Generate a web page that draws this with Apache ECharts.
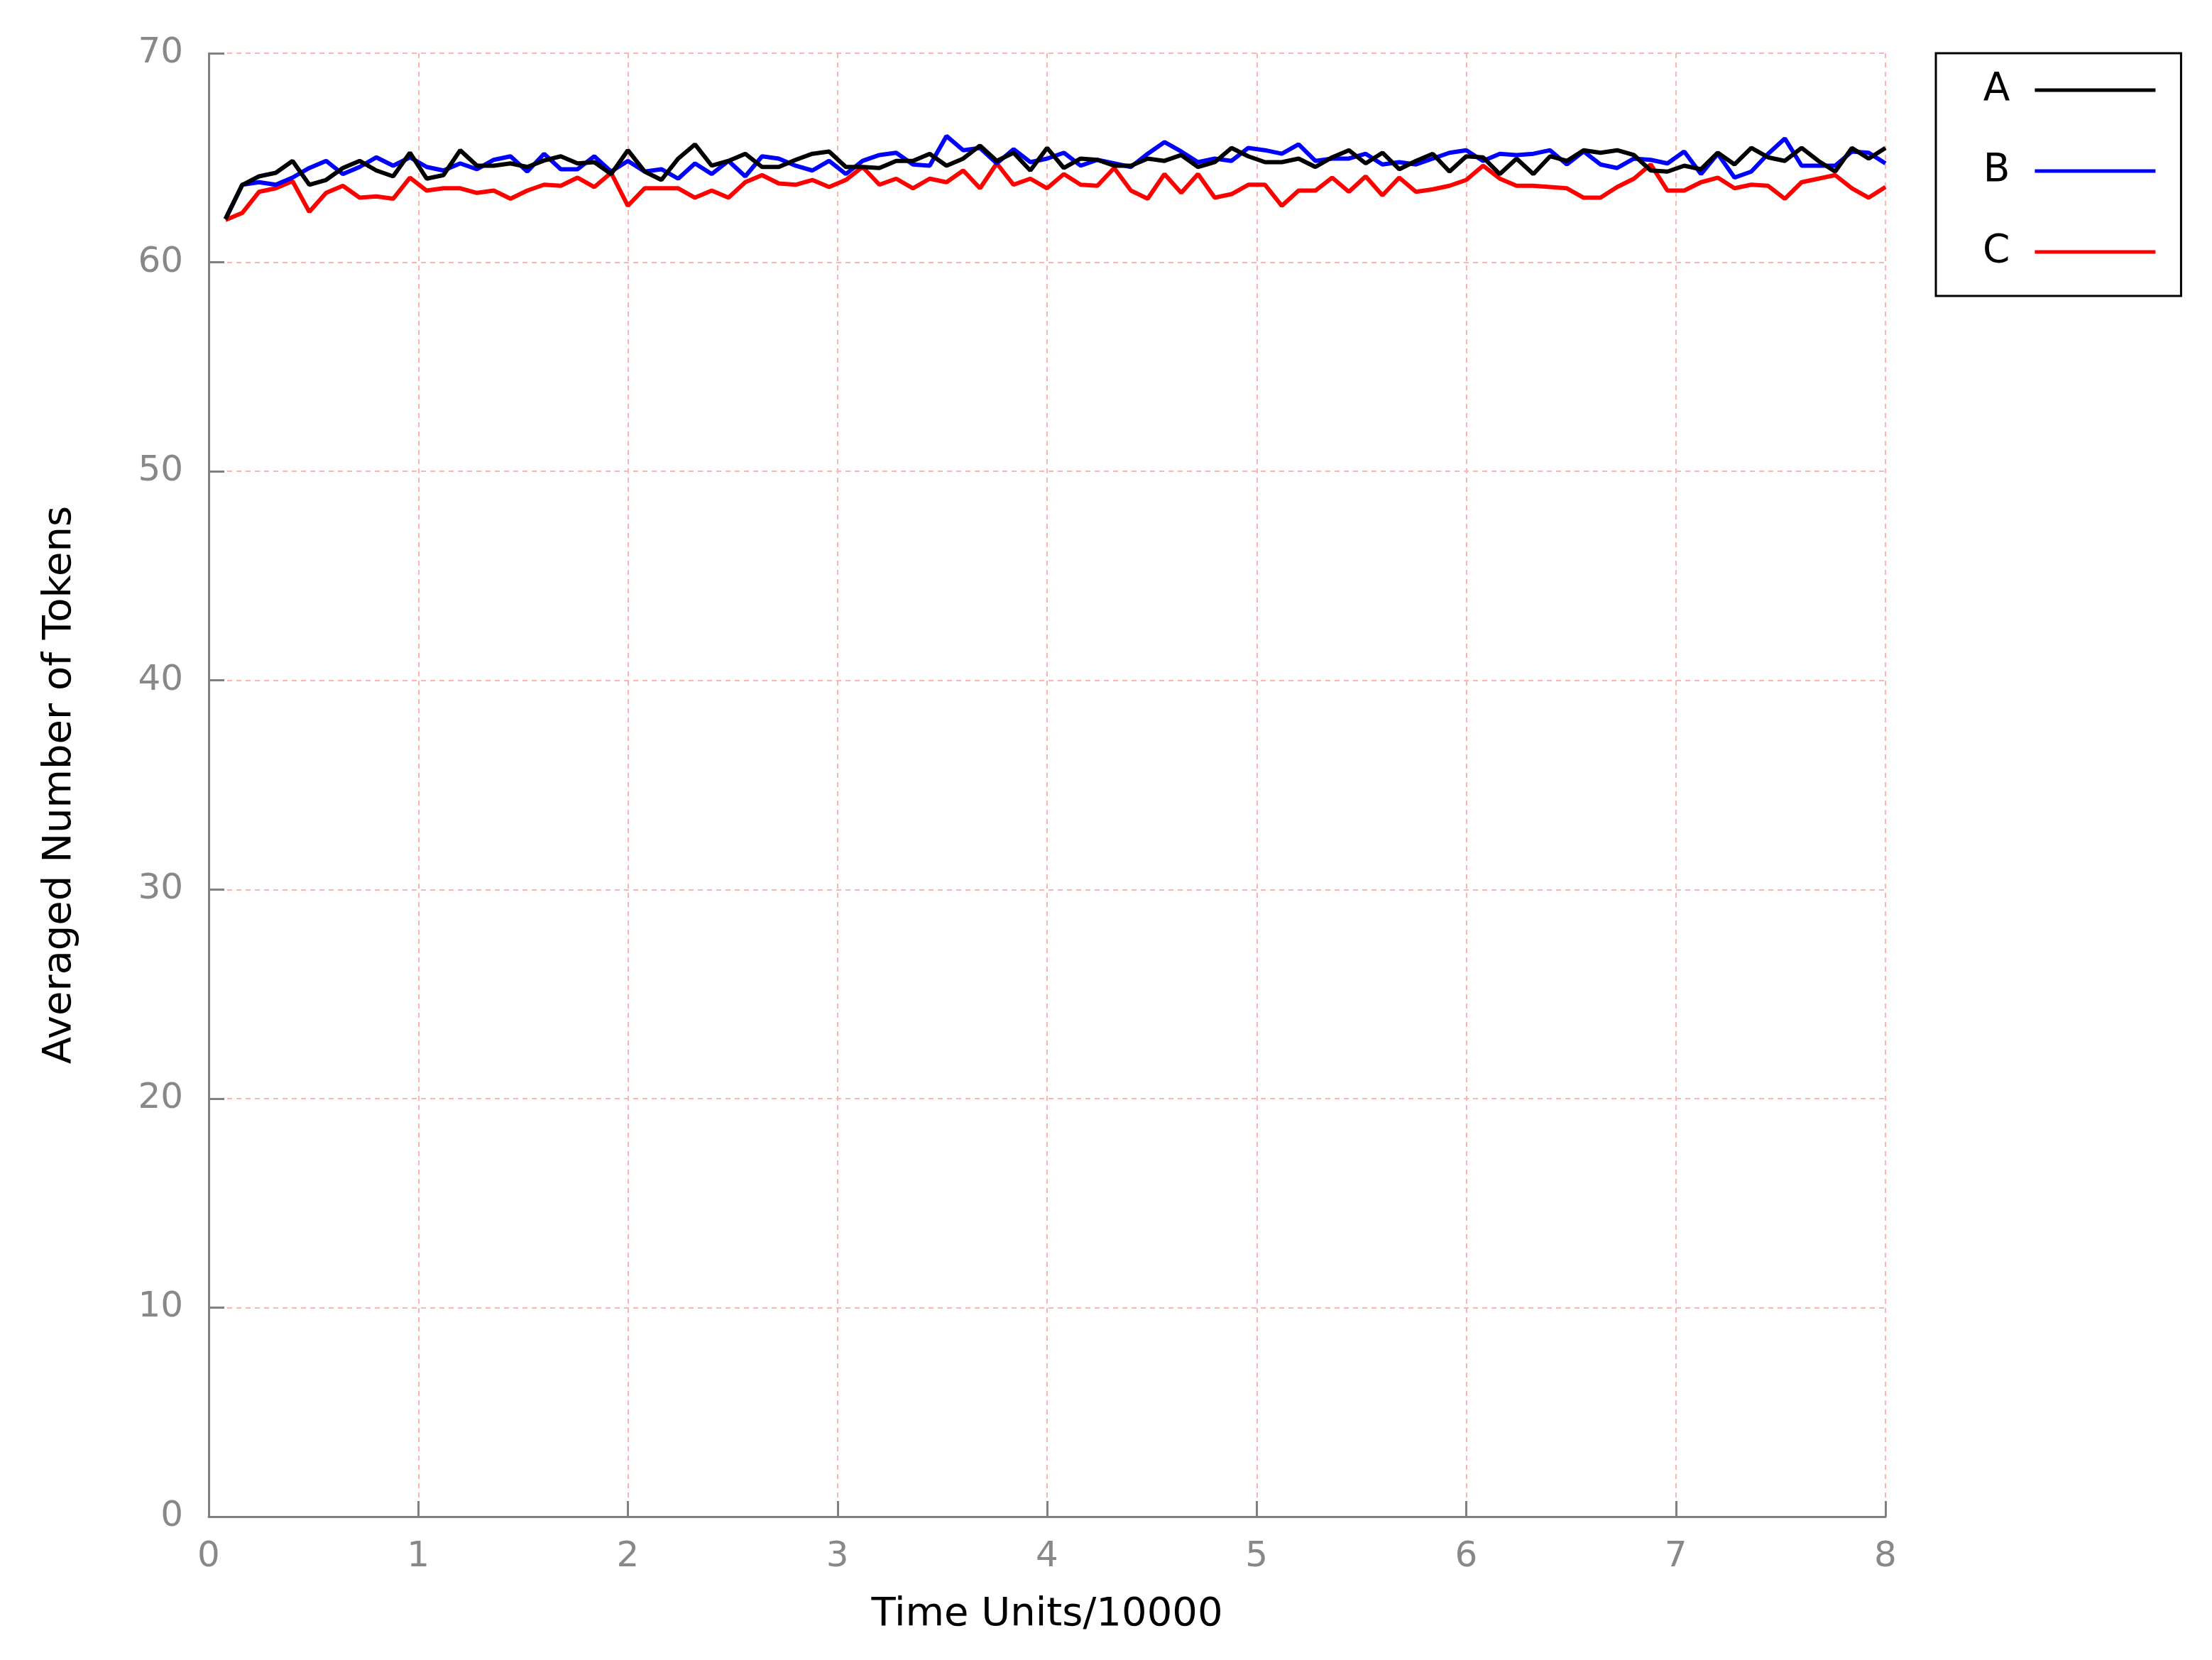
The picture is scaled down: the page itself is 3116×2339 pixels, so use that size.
<!DOCTYPE html>
<html>
<head>
<meta charset="utf-8">
<script src="https://cdn.jsdelivr.net/npm/echarts@6/dist/echarts.min.js"></script>
<style>
html,body{margin:0;padding:0;background:#fff;}
#chart{width:3116px;height:2339px;}
</style>
</head>
<body>
<div id="chart"></div>
<script>
// Sampling times (Time Units/10000)
var times = [0.08,0.16,0.24,0.32,0.40,0.48,0.56,0.64,0.72,0.80,
0.88,0.96,1.04,1.12,1.20,1.28,1.36,1.44,1.52,1.60,
1.68,1.76,1.84,1.92,2.00,2.08,2.16,2.24,2.32,2.40,
2.48,2.56,2.64,2.72,2.80,2.88,2.96,3.04,3.12,3.20,
3.28,3.36,3.44,3.52,3.60,3.68,3.76,3.84,3.92,4.00,
4.08,4.16,4.24,4.32,4.40,4.48,4.56,4.64,4.72,4.80,
4.88,4.96,5.04,5.12,5.20,5.28,5.36,5.44,5.52,5.60,
5.68,5.76,5.84,5.92,6.00,6.08,6.16,6.24,6.32,6.40,
6.48,6.56,6.64,6.72,6.80,6.88,6.96,7.04,7.12,7.20,
7.28,7.36,7.44,7.52,7.60,7.68,7.76,7.84,7.92,8.00];

var seriesA = [62.07,63.70,64.11,64.28,64.85,63.71,63.94,64.51,64.85,64.39,
64.11,65.24,64.00,64.17,65.36,64.62,64.62,64.73,64.56,64.87,
65.07,64.73,64.79,64.22,65.36,64.34,63.94,64.96,65.64,64.62,
64.85,65.19,64.56,64.56,64.90,65.19,65.30,64.56,64.56,64.51,
64.85,64.85,65.19,64.62,64.96,65.58,64.85,65.24,64.39,65.47,
64.51,64.96,64.90,64.62,64.62,64.96,64.85,65.13,64.56,64.79,
65.47,65.07,64.79,64.79,64.96,64.56,65.02,65.36,64.73,65.24,
64.45,64.85,65.19,64.34,65.07,65.02,64.22,64.96,64.22,65.07,
64.85,65.36,65.24,65.36,65.13,64.39,64.34,64.62,64.45,65.24,
64.68,65.47,65.02,64.85,65.47,64.85,64.34,65.47,64.96,65.47];

var seriesB = [62.07,63.71,63.83,63.71,64.05,64.51,64.85,64.22,64.56,65.02,
64.62,65.02,64.56,64.39,64.73,64.45,64.90,65.07,64.34,65.19,
64.45,64.45,65.07,64.34,64.85,64.34,64.45,64.00,64.73,64.22,
64.85,64.11,65.07,64.96,64.62,64.39,64.85,64.22,64.85,65.13,
65.24,64.68,64.62,66.04,65.36,65.47,64.73,65.41,64.79,64.96,
65.24,64.62,64.90,64.73,64.56,65.19,65.75,65.30,64.79,64.96,
64.85,65.47,65.36,65.19,65.64,64.85,64.96,64.96,65.19,64.68,
64.79,64.68,64.96,65.24,65.36,64.85,65.19,65.13,65.19,65.36,
64.68,65.30,64.68,64.51,64.96,64.90,64.73,65.30,64.22,65.19,
64.05,64.34,65.19,65.92,64.62,64.62,64.62,65.30,65.24,64.73];

var seriesC = [62.02,62.36,63.37,63.54,63.88,62.41,63.32,63.66,63.09,63.15,
63.04,64.05,63.43,63.54,63.54,63.32,63.43,63.04,63.43,63.71,
63.66,64.05,63.60,64.28,62.70,63.54,63.54,63.54,63.09,63.43,
63.09,63.83,64.17,63.77,63.71,63.94,63.60,63.94,64.56,63.71,
64.00,63.54,64.00,63.83,64.39,63.54,64.73,63.71,64.00,63.54,
64.22,63.71,63.66,64.51,63.43,63.04,64.22,63.32,64.22,63.09,
63.26,63.71,63.71,62.70,63.43,63.43,64.05,63.37,64.11,63.20,
64.05,63.37,63.49,63.66,63.94,64.62,64.00,63.66,63.66,63.60,
63.54,63.09,63.09,63.60,64.00,64.68,63.43,63.43,63.83,64.05,
63.54,63.71,63.66,63.04,63.83,64.00,64.17,63.54,63.09,63.60];

var seriesNames = ['A','B','C'];
var seriesColors = ['#000000','#0000ff','#ff0000'];
var xTicks = [0,1,2,3,4,5,6,7,8];
var yTicks = [0,10,20,30,40,50,60,70];

function pairs(ys){ return times.map(function(t,i){ return [t, ys[i]]; }); }

var FONT = 'DejaVu Sans';
var chart = echarts.init(document.getElementById('chart'), null, {renderer:'canvas'});

var gridLine = {show:true, lineStyle:{color:'#ffb3b3', width:2, type:[7,6]}};

chart.setOption({
  backgroundColor:'#ffffff',
  animation:false,
  grid:{left:294, right:460, top:75, bottom:202, containLabel:false},
  legend:{
    orient:'vertical',
    left:2727, top:75,
    align:'right',
    padding:[22,36,32,66],
    borderColor:'#000', borderWidth:3,
    itemGap:54,
    itemWidth:170, itemHeight:5,
    icon:'rect',
    textStyle:{fontFamily:FONT, fontSize:55, color:'#000', lineHeight:60, padding:[0,30,0,0]},
    data:seriesNames
  },
  xAxis:{
    type:'value', min:xTicks[0], max:xTicks[xTicks.length-1], interval:1,
    name:'Time Units/10000', nameLocation:'middle', nameGap:110,
    nameTextStyle:{fontFamily:FONT, fontSize:56, color:'#000'},
    axisLine:{show:true, onZero:false, lineStyle:{color:'#808080', width:3}},
    axisTick:{show:true, inside:true, length:22, lineStyle:{color:'#808080', width:3}},
    axisLabel:{fontFamily:FONT, fontSize:50, color:'#888888', margin:32,
      formatter:function(v){ return xTicks.indexOf(v)>=0 ? String(v) : ''; }},
    splitLine:gridLine
  },
  yAxis:{
    type:'value', min:yTicks[0], max:yTicks[yTicks.length-1], interval:10,
    name:'Averaged Number of Tokens', nameLocation:'middle', nameGap:182, nameRotate:90,
    nameTextStyle:{fontFamily:FONT, fontSize:56, color:'#000'},
    axisLine:{show:true, lineStyle:{color:'#808080', width:3}},
    axisTick:{show:true, inside:true, length:22, lineStyle:{color:'#808080', width:3}},
    axisLabel:{fontFamily:FONT, fontSize:50, color:'#888888', margin:36,
      formatter:function(v){ return yTicks.indexOf(v)>=0 ? String(v) : ''; }},
    splitLine:gridLine
  },
  series:[seriesA, seriesB, seriesC].map(function(d,k){
    return {
      name:seriesNames[k], type:'line', data:pairs(d),
      showSymbol:false, symbol:'none',
      lineStyle:{color:seriesColors[k], width:6},
      itemStyle:{color:seriesColors[k]},
      z: 3 - k
    };
  })
});
</script>
</body>
</html>
